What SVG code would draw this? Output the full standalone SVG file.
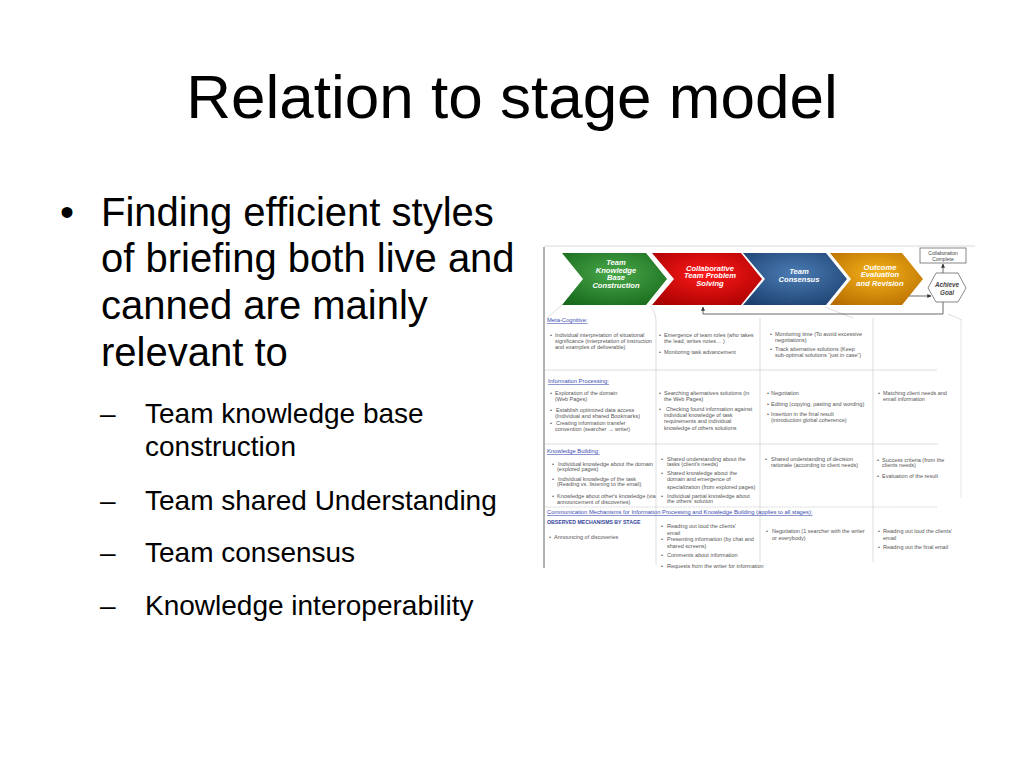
<svg xmlns="http://www.w3.org/2000/svg" width="1024" height="768" viewBox="0 0 1024 768">
<defs>
<radialGradient id="gGreen" cx="0.5" cy="0.4" r="0.7"><stop offset="0" stop-color="#4aa84a"/><stop offset="1" stop-color="#176a1c"/></radialGradient>
<radialGradient id="gRed" cx="0.5" cy="0.4" r="0.7"><stop offset="0" stop-color="#ff1a1a"/><stop offset="1" stop-color="#a80000"/></radialGradient>
<radialGradient id="gBlue" cx="0.5" cy="0.4" r="0.7"><stop offset="0" stop-color="#4b7cb4"/><stop offset="1" stop-color="#1c4170"/></radialGradient>
<radialGradient id="gOrange" cx="0.5" cy="0.4" r="0.7"><stop offset="0" stop-color="#f5b21a"/><stop offset="1" stop-color="#b86e00"/></radialGradient>
<marker id="arr" viewBox="0 0 6 6" refX="5.5" refY="3" markerWidth="5" markerHeight="5" orient="auto"><path d="M0,0 L6,3 L0,6 z" fill="#333"/></marker>
<style>
.title{font-family:"Liberation Sans",Arial,sans-serif;font-size:62px;fill:#000}
.b1{font-family:"Liberation Sans",Arial,sans-serif;font-size:40px;fill:#000}
.b2{font-family:"Liberation Sans",Arial,sans-serif;font-size:28px;fill:#000}
.chev{font-family:"Liberation Sans",Arial,sans-serif;font-size:7.6px;font-weight:bold;font-style:italic;fill:#fff;text-anchor:middle}
.t{font-family:"Liberation Sans",Arial,sans-serif;font-size:5.5px;fill:#555}
.h{font-family:"Liberation Sans",Arial,sans-serif;font-size:5.8px;fill:#3a4bb0;text-decoration:underline}
.hb{font-family:"Liberation Sans",Arial,sans-serif;font-size:5.2px;font-weight:bold;fill:#33449a}
.grid{stroke:#cfcfcf;stroke-width:0.7;fill:none}
.conn{stroke:#444;stroke-width:0.8;fill:none}
.small{font-family:"Liberation Sans",Arial,sans-serif;font-size:5px;fill:#444;text-anchor:middle}
.goal{font-family:"Liberation Sans",Arial,sans-serif;font-size:6.3px;font-weight:bold;font-style:italic;fill:#444;text-anchor:middle}
</style>
</defs>
<rect width="1024" height="768" fill="#fff"/>

<text class="title" x="512" y="118" text-anchor="middle">Relation to stage model</text>

<g id="bullets">
<text class="b1" x="60" y="226">•</text>
<text class="b1" x="101" y="226">Finding efficient styles</text>
<text class="b1" x="101" y="272">of briefing both live and</text>
<text class="b1" x="101" y="319">canned are mainly</text>
<text class="b1" x="101" y="366">relevant to</text>
<text class="b2" x="100" y="423">–</text>
<text class="b2" x="145" y="423">Team knowledge base</text>
<text class="b2" x="145" y="456">construction</text>
<text class="b2" x="100" y="510">–</text>
<text class="b2" x="145" y="510">Team shared Understanding</text>
<text class="b2" x="100" y="562">–</text>
<text class="b2" x="145" y="562">Team consensus</text>
<text class="b2" x="100" y="615">–</text>
<text class="b2" x="145" y="615">Knowledge interoperability</text>
</g>

<g id="frame">
<line x1="544" y1="246" x2="975" y2="246" stroke="#d0d0d0" stroke-width="0.8"/>
<line x1="544" y1="247" x2="544" y2="568" stroke="#555" stroke-width="0.9"/>
<line x1="961" y1="320" x2="961" y2="498" stroke="#e0e0e0" stroke-width="0.8"/>
</g>

<g id="grid">
<path class="grid" d="M562,305 L547,318"/>
<path class="grid" d="M650,306 Q656,312 656,322 L656,565"/>
<path class="grid" d="M760,318 L760,562"/>
<path class="grid" d="M873,318 L873,562"/>
<path class="grid" d="M825,307 L853,318"/>
<path class="grid" d="M948,314 L962,320"/>
<line class="grid" x1="545" y1="370" x2="937" y2="370"/>
<line class="grid" x1="545" y1="444" x2="938" y2="444"/>
<line class="grid" x1="545" y1="507" x2="937" y2="507" stroke-dasharray="2,0.6"/>
</g>

<g id="stage-team-knowledge">
<polygon points="562,253 646,253 667,279 646,305 562,305 583,279" fill="url(#gGreen)"/>
<text class="chev" x="616" y="265">Team</text>
<text class="chev" x="616" y="273">Knowledge</text>
<text class="chev" x="616" y="280">Base</text>
<text class="chev" x="616" y="288">Construction</text>
</g>
<g id="stage-collaborative">
<polygon points="652,253 741,253 762,279 741,305 652,305 674,279" fill="url(#gRed)"/>
<text class="chev" x="710" y="271">Collaborative</text>
<text class="chev" x="710" y="278">Team Problem</text>
<text class="chev" x="710" y="286">Solving</text>
</g>
<g id="stage-consensus">
<polygon points="743,253 826,253 847,279 826,305 743,305 765,279" fill="url(#gBlue)"/>
<text class="chev" x="799" y="274">Team</text>
<text class="chev" x="799" y="282">Consensus</text>
</g>
<g id="stage-outcome">
<polygon points="830,253 902,253 923,279 902,305 830,305 851,279" fill="url(#gOrange)"/>
<text class="chev" x="880" y="270">Outcome</text>
<text class="chev" x="880" y="277">Evaluation</text>
<text class="chev" x="880" y="286">and Revision</text>
</g>
<g id="collab-complete">
<rect x="920" y="248" width="46" height="15" fill="#fff" stroke="#555" stroke-width="0.7"/>
<text class="small" x="943" y="254.5">Collaboration</text>
<text class="small" x="943" y="260.5">Complete</text>
</g>
<g id="achieve-goal">
<polygon points="928,288 936,273 958,273 966,288 958,302 936,302" fill="#fff" stroke="#555" stroke-width="0.7"/>
<text class="goal" x="947" y="287">Achieve</text>
<text class="goal" x="947" y="295">Goal</text>
</g>

<g id="connectors">
<path class="conn" d="M943,273 L943,264" marker-end="url(#arr)"/>
<path class="conn" d="M909,296 L931,296" marker-end="url(#arr)"/>
<path class="conn" d="M943,302 L943,314 L703,314 L703,307" marker-end="url(#arr)"/>
</g>

<g id="table-text">
<text class="h" x="547" y="322">Meta-Cognitive:</text>
<text class="t" x="550" y="337">•</text>
<text class="t" x="555" y="337">Individual interpretation of situational</text>
<text class="t" x="555" y="343">significance (interpretation of instruction</text>
<text class="t" x="555" y="349">and examples of deliverable)</text>
<text class="t" x="659" y="337">•</text>
<text class="t" x="664" y="337">Emergence of team roles (who takes</text>
<text class="t" x="664" y="343">the lead, writes notes… )</text>
<text class="t" x="659" y="354">•</text>
<text class="t" x="664" y="354">Monitoring task advancement</text>
<text class="t" x="770" y="336">•</text>
<text class="t" x="775" y="336">Monitoring time (To avoid excessive</text>
<text class="t" x="775" y="342">negotiations)</text>
<text class="t" x="770" y="351">•</text>
<text class="t" x="775" y="351">Track alternative solutions (Keep</text>
<text class="t" x="775" y="357">sub-optimal solutions “just in case”)</text>

<text class="h" x="548" y="383">Information Processing:</text>
<text class="t" x="550" y="395">•</text>
<text class="t" x="555" y="395">Exploration of the domain</text>
<text class="t" x="555" y="401">(Web Pages)</text>
<text class="t" x="550" y="412">•</text>
<text class="t" x="556" y="412">Establish optimized data access</text>
<text class="t" x="555" y="418">(Individual and shared Bookmarks)</text>
<text class="t" x="550" y="425">•</text>
<text class="t" x="556" y="425">Creating information transfer</text>
<text class="t" x="555" y="431">convention (searcher → writer)</text>
<text class="t" x="659" y="395">•</text>
<text class="t" x="664" y="395">Searching alternatives solutions (in</text>
<text class="t" x="664" y="401">the Web Pages)</text>
<text class="t" x="659" y="411">•</text>
<text class="t" x="666" y="411">Checking found information against</text>
<text class="t" x="664" y="417">individual knowledge of task</text>
<text class="t" x="664" y="423">requirements and individual</text>
<text class="t" x="664" y="430">knowledge of others solutions</text>
<text class="t" x="767" y="395">•</text>
<text class="t" x="771" y="395">Negotiation</text>
<text class="t" x="767" y="406">•</text>
<text class="t" x="771" y="406">Editing (copying, pasting and wording)</text>
<text class="t" x="767" y="416">•</text>
<text class="t" x="771" y="416">Insertion in the final result</text>
<text class="t" x="771" y="422">(introduction global coherence)</text>
<text class="t" x="878" y="395">•</text>
<text class="t" x="883" y="395">Matching client needs and</text>
<text class="t" x="883" y="401">email information</text>

<text class="h" x="547" y="453">Knowledge Building:</text>
<text class="t" x="552" y="466">•</text>
<text class="t" x="558" y="466">Individual knowledge about the domain</text>
<text class="t" x="557" y="471">(explored pages)</text>
<text class="t" x="552" y="481">•</text>
<text class="t" x="558" y="481">Individual knowledge of the task</text>
<text class="t" x="557" y="486">(Reading vs. listening to the email)</text>
<text class="t" x="552" y="498">•</text>
<text class="t" x="557" y="498">Knowledge about other's knowledge (via</text>
<text class="t" x="557" y="504">announcement of discoveries)</text>
<text class="t" x="661" y="461">•</text>
<text class="t" x="667" y="461">Shared understanding about the</text>
<text class="t" x="667" y="466">tasks (client's needs)</text>
<text class="t" x="661" y="475">•</text>
<text class="t" x="667" y="475">Shared knowledge about the</text>
<text class="t" x="667" y="481">domain and emergence of</text>
<text class="t" x="667" y="489">specialization (from explored pages)</text>
<text class="t" x="661" y="498">•</text>
<text class="t" x="667" y="498">Individual partial knowledge about</text>
<text class="t" x="667" y="503">the others' solution</text>
<text class="t" x="765" y="461">•</text>
<text class="t" x="771" y="461">Shared understanding of decision</text>
<text class="t" x="771" y="467">rationale (according to client needs)</text>
<text class="t" x="877" y="462">•</text>
<text class="t" x="882" y="462">Success criteria (from the</text>
<text class="t" x="882" y="467">clients needs)</text>
<text class="t" x="877" y="478">•</text>
<text class="t" x="882" y="478">Evaluation of the result</text>

<text class="h" x="547" y="514">Communication Mechanisms for Information Processing and Knowledge Building (applies to all stages):</text>
<text class="hb" x="547" y="524">OBSERVED MECHANISMS BY STAGE</text>
<text class="t" x="549" y="539">•</text>
<text class="t" x="554" y="539">Announcing of discoveries</text>
<text class="t" x="661" y="528">•</text>
<text class="t" x="667" y="528">Reading out loud the clients'</text>
<text class="t" x="667" y="535">email</text>
<text class="t" x="661" y="541">•</text>
<text class="t" x="667" y="541">Presenting information (by chat and</text>
<text class="t" x="667" y="548">shared screens)</text>
<text class="t" x="661" y="557">•</text>
<text class="t" x="667" y="557">Comments about information</text>
<text class="t" x="661" y="568">•</text>
<text class="t" x="667" y="568">Requests from the writer for information</text>
<text class="t" x="766" y="533">•</text>
<text class="t" x="772" y="533">Negotiation (1 searcher with the writer</text>
<text class="t" x="772" y="540">or everybody)</text>
<text class="t" x="878" y="533">•</text>
<text class="t" x="883" y="533">Reading out loud the clients'</text>
<text class="t" x="883" y="540">email</text>
<text class="t" x="878" y="549">•</text>
<text class="t" x="883" y="549">Reading out the final email</text>
</g>
</svg>
